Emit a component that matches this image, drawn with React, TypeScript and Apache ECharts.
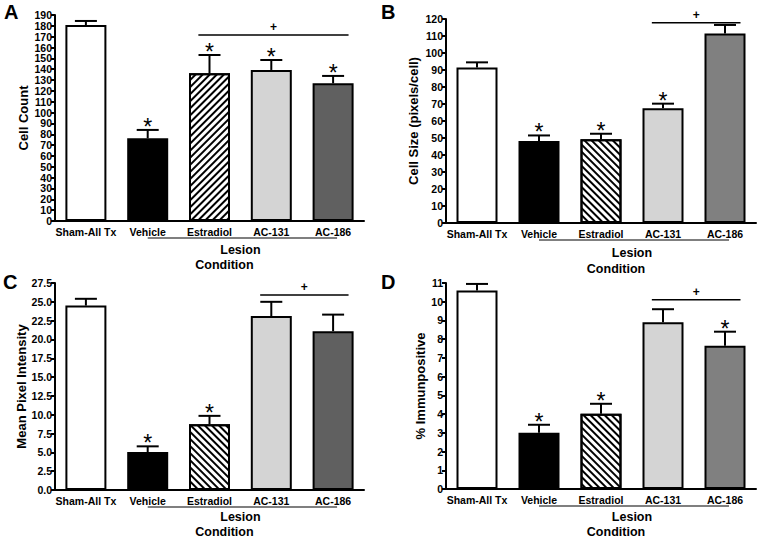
import React, { useEffect, useRef } from 'react';
import * as echarts from 'echarts';

const categories = ['Sham-All Tx', 'Vehicle', 'Estradiol', 'AC-131', 'AC-186'];

// Panel A
const cellCountMean = [180.8, 76.3, 136.2, 139.3, 127.0];
const cellCountErr = [184.5, 84.0, 153.1, 148.5, 133.8];
const cellCountStar = [0, 1, 1, 1, 1];
const cellCountSig = [2, 4, 171.6];
const cellCountTicks = [0, 190, 10];

// Panel B
const cellSizeMean = [91.4, 48.3, 49.3, 67.5, 111.5];
const cellSizeErr = [94.5, 51.5, 52.5, 70.2, 116.5];
const cellSizeStar = [0, 1, 1, 1, 0];
const cellSizeSig = [3, 4, 117.8];
const cellSizeTicks = [0, 120, 10];

// Panel C
const intensityMean = [24.5, 5.05, 8.75, 23.1, 21.1];
const intensityErr = [25.4, 5.8, 9.85, 25.0, 23.3];
const intensityStar = [0, 1, 1, 0, 0];
const intensitySig = [3, 4, 25.9];
const intensityTicks = [0, 27.5, 2.5];

// Panel D
const immunoMean = [10.6, 3.0, 4.02, 8.9, 7.65];
const immunoErr = [10.95, 3.43, 4.55, 9.6, 8.4];
const immunoStar = [0, 1, 1, 0, 1];
const immunoSig = [3, 4, 10.1];
const immunoTicks = [0, 11, 1];

const FONT = 'Arial, "Liberation Sans", sans-serif';

const panels = [
  { letter: 'A', title: 'Cell Count', mean: cellCountMean, err: cellCountErr, star: cellCountStar, sig: cellCountSig, ticks: cellCountTicks, dark: '#606060', hatch: -Math.PI / 4, dec: 0,
    grid: { left: 55, top: 15, width: 309, height: 206 }, nameGap: 25, lesionGap: 29, xNameGap: 44, letterPos: [4, 2] },
  { letter: 'B', title: 'Cell Size (pixels/cell)', mean: cellSizeMean, err: cellSizeErr, star: cellSizeStar, sig: cellSizeSig, ticks: cellSizeTicks, dark: '#808080', hatch: Math.PI / 4, dec: 0,
    grid: { left: 446, top: 19, width: 310, height: 204 }, nameGap: 26, lesionGap: 30, xNameGap: 46, letterPos: [381, 2] },
  { letter: 'C', title: 'Mean Pixel Intensity', mean: intensityMean, err: intensityErr, star: intensityStar, sig: intensitySig, ticks: intensityTicks, dark: '#606060', hatch: Math.PI / 4, dec: 1,
    grid: { left: 55, top: 283, width: 309, height: 207 }, nameGap: 25, lesionGap: 27, xNameGap: 42, letterPos: [3, 272] },
  { letter: 'D', title: '% Immunpositive', mean: immunoMean, err: immunoErr, star: immunoStar, sig: immunoSig, ticks: immunoTicks, dark: '#808080', hatch: Math.PI / 4, dec: 0,
    grid: { left: 446, top: 283, width: 310, height: 206 }, nameGap: 15, lesionGap: 28, xNameGap: 43, letterPos: [381, 272] },
];

export default function App() {
  const ref = useRef<HTMLDivElement>(null);
  useEffect(() => {
    if (!ref.current) return;
    const chart = echarts.init(ref.current, null, { renderer: 'svg' });

    const grids: any[] = [];
    const xAxes: any[] = [];
    const yAxes: any[] = [];
    const series: any[] = [];
    const graphics: any[] = [];

    panels.forEach((p, k) => {
      grids.push({ ...p.grid, containLabel: false });
      xAxes.push({
        type: 'category', gridIndex: k, data: categories,
        axisLine: { lineStyle: { color: '#000', width: 2 } },
        axisTick: { alignWithLabel: true, length: 4, lineStyle: { color: '#000', width: 2 } },
        axisLabel: { fontFamily: FONT, fontWeight: 'bold', fontSize: 10.5, color: '#000', margin: 5, interval: 0 },
      });
      yAxes.push({
        type: 'value', gridIndex: k, min: p.ticks[0], max: p.ticks[1], interval: p.ticks[2],
        name: p.title, nameLocation: 'middle', nameGap: p.nameGap, nameRotate: 90,
        nameTextStyle: { fontFamily: FONT, fontWeight: 'bold', fontSize: 13, color: '#000' },
        axisLine: { show: true, lineStyle: { color: '#000', width: 2 } },
        axisTick: { show: true, length: 4, lineStyle: { color: '#000', width: 2 } },
        splitLine: { show: false },
        axisLabel: {
          fontFamily: FONT, fontWeight: 'bold', fontSize: 10.5, color: '#000', margin: 3,
          formatter: (v: number) => (p.dec ? v.toFixed(p.dec) : String(v)),
        },
      });

      const fills = ['#ffffff', '#000000', '#ffffff', '#d4d4d4', p.dark];
      series.push({
        type: 'bar', xAxisIndex: k, yAxisIndex: k, barWidth: 41,
        data: p.mean.map((v, i) => ({
          value: v,
          itemStyle: {
            color: fills[i], borderColor: '#000', borderWidth: 2,
            ...(i === 2 ? { decal: { symbol: 'rect', symbolSize: 1, color: '#000', backgroundColor: '#fff', dashArrayX: [1, 0], dashArrayY: [2, 3], rotation: p.hatch } } : {}),
          },
        })),
      });

      series.push({
        type: 'custom', xAxisIndex: k, yAxisIndex: k, clip: false,
        encode: { x: 0, y: 2 },
        data: p.mean.map((v, i) => [i, v, p.err[i], p.star[i]]),
        renderItem: (params: any, api: any) => {
          const i = api.value(0);
          const top = api.coord([i, api.value(1)]);
          const e = api.coord([i, api.value(2)]);
          const children: any[] = [
            { type: 'line', shape: { x1: top[0], y1: top[1], x2: e[0], y2: e[1] }, style: { stroke: '#000', lineWidth: 2 } },
            { type: 'line', shape: { x1: e[0] - 11, y1: e[1], x2: e[0] + 11, y2: e[1] }, style: { stroke: '#000', lineWidth: 2 } },
          ];
          if (api.value(3)) {
            children.push({ type: 'text', x: e[0], y: e[1] - 3, style: { text: '*', fontSize: 23, fontFamily: FONT, fill: '#000', align: 'center', verticalAlign: 'middle' } });
          }
          return { type: 'group', children };
        },
      });

      series.push({
        type: 'custom', xAxisIndex: k, yAxisIndex: k, clip: false,
        encode: { x: [0, 1], y: 2 },
        data: [p.sig],
        renderItem: (params: any, api: any) => {
          const band = api.size([1, 0])[0];
          const a = api.coord([api.value(0), api.value(2)]);
          const b = api.coord([api.value(1), api.value(2)]);
          const x1 = a[0] - 0.18 * band;
          const x2 = b[0] + 0.25 * band;
          return {
            type: 'group', children: [
              { type: 'line', shape: { x1, y1: a[1], x2, y2: a[1] }, style: { stroke: '#000', lineWidth: 1.5 } },
              { type: 'text', x: (x1 + x2) / 2, y: a[1] - 8, style: { text: '+', fontSize: 12, fontWeight: 'bold', fontFamily: FONT, fill: '#000', align: 'center', verticalAlign: 'middle' } },
            ],
          };
        },
      });

      series.push({
        type: 'custom', xAxisIndex: k, yAxisIndex: k, clip: false,
        encode: { x: [0, 1], y: 2 },
        data: [[1, 4, p.ticks[0]]],
        renderItem: (params: any, api: any) => {
          const a = api.coord([api.value(0), api.value(2)]);
          const b = api.coord([api.value(1), api.value(2)]);
          const mid = (a[0] + b[0]) / 2;
          return {
            type: 'group', children: [
              { type: 'line', shape: { x1: a[0], y1: a[1] + 17, x2: b[0] + 4, y2: a[1] + 17 }, style: { stroke: '#000', lineWidth: 1.2 } },
              { type: 'text', x: mid, y: a[1] + p.lesionGap, style: { text: 'Lesion', fontSize: 12.5, fontWeight: 'bold', fontFamily: FONT, fill: '#000', align: 'center', verticalAlign: 'middle' } },
              { type: 'text', x: mid - 16, y: a[1] + p.xNameGap, style: { text: 'Condition', fontSize: 12.5, fontWeight: 'bold', fontFamily: FONT, fill: '#000', align: 'center', verticalAlign: 'middle' } },
            ],
          };
        },
      });

      graphics.push({
        type: 'text', left: p.letterPos[0], top: p.letterPos[1],
        style: { text: p.letter, fontSize: 20, fontWeight: 'bold', fontFamily: FONT, fill: '#000' },
      });
    });

    chart.setOption({
      animation: false,
      backgroundColor: '#fff',
      grid: grids,
      xAxis: xAxes,
      yAxis: yAxes,
      series,
      graphic: graphics,
    });
    return () => chart.dispose();
  }, []);

  return <div ref={ref} style={{ position: 'fixed', left: 0, top: 0, width: 758, height: 540 }} />;
}
